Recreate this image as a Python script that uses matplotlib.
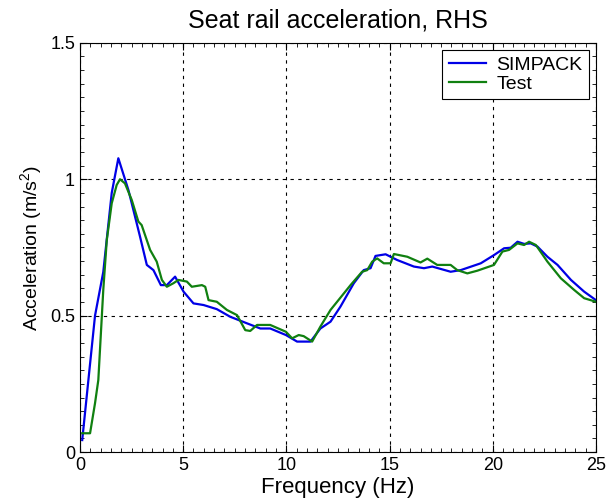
import matplotlib.pyplot as plt
import numpy as np
from matplotlib.ticker import MultipleLocator

plt.rcParams['font.family'] = ['Liberation Sans', 'DejaVu Sans']
plt.rcParams['mathtext.fontset'] = 'custom'
plt.rcParams['mathtext.rm'] = 'Liberation Sans'

# SIMPACK curve
sim_f = [0.11, 0.73, 1.13, 1.54, 1.86, 2.35, 2.91, 3.24, 3.56, 3.92, 4.21, 4.61, 5.02, 5.50,
         5.99, 6.63, 7.28, 8.09, 8.74, 9.22, 9.98, 10.52, 11.17, 11.65, 12.14, 12.62, 13.27,
         13.75, 14.08, 14.32, 14.81, 15.37, 16.18, 16.67, 17.07, 17.96, 18.45, 19.42, 20.06,
         20.55, 20.87, 21.2, 21.52, 21.84, 22.17, 22.65, 23.14, 23.79, 24.43, 25.0]
sim_a = [0.044, 0.50, 0.66, 0.95, 1.077, 0.96, 0.79, 0.686, 0.667, 0.612, 0.612, 0.643, 0.588,
         0.545, 0.539, 0.524, 0.496, 0.472, 0.453, 0.453, 0.429, 0.405, 0.405, 0.453, 0.478,
         0.533, 0.619, 0.667, 0.674, 0.719, 0.725, 0.704, 0.680, 0.674, 0.680, 0.661, 0.667,
         0.692, 0.722, 0.747, 0.749, 0.771, 0.763, 0.765, 0.753, 0.716, 0.686, 0.631, 0.588,
         0.557]

# Test curve
test_f = [0.11, 0.49, 0.73, 0.89, 1.13, 1.30, 1.54, 1.78, 1.94, 2.18, 2.51, 2.83, 2.99, 3.40,
          3.72, 3.97, 4.21, 4.53, 4.77, 5.18, 5.42, 5.91, 6.07, 6.23, 6.63, 7.12, 7.61, 8.01,
          8.25, 8.58, 9.22, 9.98, 10.28, 10.6, 10.84, 11.25, 11.65, 12.14, 12.46, 13.11, 13.67,
          13.92, 14.16, 14.4, 14.72, 15.05, 15.21, 15.86, 16.5, 16.83, 17.31, 17.96, 18.28,
          18.77, 19.26, 20.06, 20.47, 20.79, 21.2, 21.52, 21.76, 22.09, 22.65, 23.3, 23.95,
          24.43, 25.0]
test_a = [0.069, 0.069, 0.179, 0.264, 0.594, 0.777, 0.912, 0.979, 1.0, 0.985, 0.924, 0.845,
          0.832, 0.741, 0.698, 0.631, 0.606, 0.619, 0.631, 0.625, 0.606, 0.612, 0.606, 0.557,
          0.551, 0.521, 0.502, 0.447, 0.444, 0.466, 0.466, 0.441, 0.417, 0.429, 0.425, 0.405,
          0.460, 0.521, 0.551, 0.612, 0.661, 0.667, 0.698, 0.710, 0.692, 0.692, 0.726, 0.716,
          0.695, 0.709, 0.686, 0.686, 0.667, 0.655, 0.665, 0.686, 0.735, 0.741, 0.765, 0.759,
          0.771, 0.759, 0.698, 0.637, 0.594, 0.564, 0.551]

fig = plt.figure(figsize=(6.15, 5.04), dpi=100)
ax = fig.add_axes([0.130, 0.103, 0.839, 0.812])

ax.plot(sim_f, sim_a, color='#0000e6', lw=1.6, label='SIMPACK')
ax.plot(test_f, test_a, color='#108010', lw=1.6, label='Test')

ax.set_xlim(0, 25)
ax.set_ylim(0, 1.5)
ax.xaxis.set_major_locator(MultipleLocator(5))
ax.xaxis.set_minor_locator(MultipleLocator(0.5))
ax.yaxis.set_major_locator(MultipleLocator(0.5))
ax.yaxis.set_minor_locator(MultipleLocator(0.05))
ax.set_yticks([0, 0.5, 1, 1.5])
ax.set_yticklabels(['0', '0.5', '1', '1.5'])
ax.tick_params(which='both', direction='in', top=True, right=True, labelsize=13)
ax.tick_params(which='major', length=5)
ax.tick_params(which='minor', length=3)
ax.grid(True, which='major', color='black', linestyle=(0, (3, 4)), lw=0.8)

ax.set_title('Seat rail acceleration, RHS', fontsize=18, pad=11)
ax.set_xlabel('Frequency (Hz)', fontsize=16, labelpad=2)
ax.set_ylabel('Acceleration (m/s$^2$)', fontsize=14, labelpad=4)

leg = ax.legend(loc='upper right', fontsize=14, fancybox=False, framealpha=1,
                edgecolor='black', handlelength=1.95, handletextpad=0.5,
                borderaxespad=0.35, borderpad=0.35, labelspacing=0.05)
leg.get_frame().set_linewidth(0.8)

fig.savefig('out.png', dpi=100)
